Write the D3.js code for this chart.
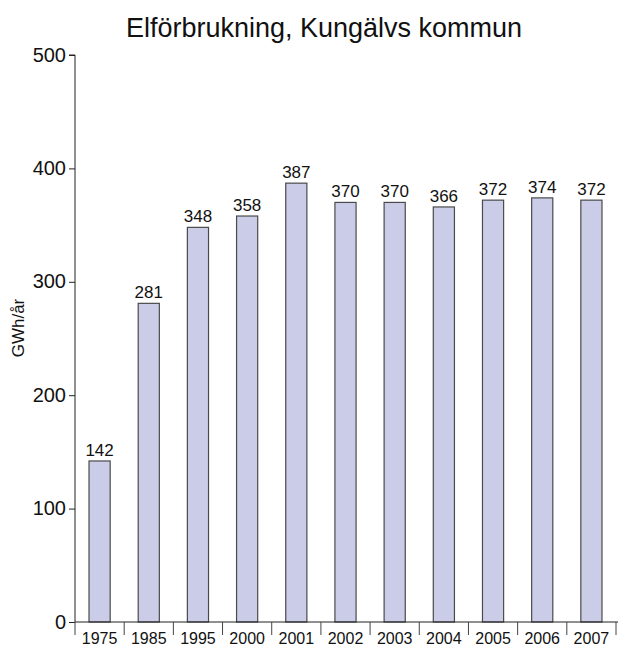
<!DOCTYPE html>
<html lang="sv">
<head>
  <meta charset="UTF-8">
  <title>Elförbrukning</title>
  <style>
    * { padding: 0; margin: 0; }
    html, body { width: 619px; height: 646px; overflow: hidden; background: #fff; }
    text { font-family: "Liberation Sans", Arial, sans-serif; fill: #111; }
  </style>
</head>
<body>
  <script src="https://cdn.jsdelivr.net/npm/d3@7/dist/d3.min.js"></script>
  <script>
    // data
    const years = ['1975', '1985', '1995', '2000', '2001', '2002', '2003', '2004', '2005', '2006', '2007']
    const gwh = [142, 281, 348, 358, 387, 370, 370, 366, 372, 374, 372]
    const yTicks = [0, 100, 200, 300, 400, 500]

    const width = 619, height = 646
    const m = { left: 75, right: 616, top: 55, bottom: 622 }

    const svg = d3.select('body').append('svg').attr('width', width).attr('height', height)

    const x = d3.scaleBand().domain(years).range([m.left, m.right]).paddingInner(0).paddingOuter(0)
    const y = d3.scaleLinear().domain([0, 500]).range([m.bottom, m.top])
    const barW = x.bandwidth() * 0.43

    // title
    svg.append('text').attr('x', 324).attr('y', 37).attr('text-anchor', 'middle')
      .style('font-size', '27px').text('Elförbrukning, Kungälvs kommun')

    // y axis label
    svg.append('text').attr('transform', 'translate(24, 328) rotate(-90)').attr('text-anchor', 'middle')
      .style('font-size', '17px').text('GWh/år')

    // bars
    svg.append('g').selectAll('rect').data(gwh).join('rect')
      .attr('x', (d, i) => x(years[i]) + (x.bandwidth() - barW) / 2)
      .attr('y', d => y(d))
      .attr('width', barW)
      .attr('height', d => y(0) - y(d))
      .attr('fill', '#cbcde8')
      .attr('stroke', '#4a4a4a')
      .attr('stroke-width', 1.2)

    // value labels
    svg.append('g').selectAll('text').data(gwh).join('text')
      .attr('x', (d, i) => x(years[i]) + x.bandwidth() / 2)
      .attr('y', d => y(d) - 5)
      .attr('text-anchor', 'middle')
      .style('font-size', '17px')
      .text(d => d)

    // y axis
    const yAxis = svg.append('g').attr('transform', `translate(${m.left},0)`)
      .call(d3.axisLeft(y).tickValues(yTicks).tickSize(6).tickPadding(3))
    yAxis.select('.domain').attr('stroke', '#222').attr('d', `M-6,${m.top}H0V${m.bottom}`)
    yAxis.selectAll('.tick line').attr('stroke', '#222')
    yAxis.selectAll('.tick text').style('font-size', '20px').attr('font-family', null).attr('dy', '0.3em')

    // x axis: base line + separators between categories
    const xg = svg.append('g')
    xg.append('line').attr('x1', m.left).attr('x2', m.right + 2).attr('y1', m.bottom).attr('y2', m.bottom)
      .attr('stroke', '#222').attr('stroke-width', 1.2)
    const seps = years.map(d => x(d)).concat([m.right])
    xg.selectAll('line.sep').data(seps).join('line').attr('class', 'sep')
      .attr('x1', d => d).attr('x2', d => d).attr('y1', m.bottom).attr('y2', m.bottom + 13)
      .attr('stroke', '#444').attr('stroke-width', 1)
    xg.selectAll('text').data(years).join('text')
      .attr('x', d => x(d) + x.bandwidth() / 2)
      .attr('y', 644)
      .attr('text-anchor', 'middle')
      .style('font-size', '16px')
      .text(d => d)
  </script>
</body>
</html>
